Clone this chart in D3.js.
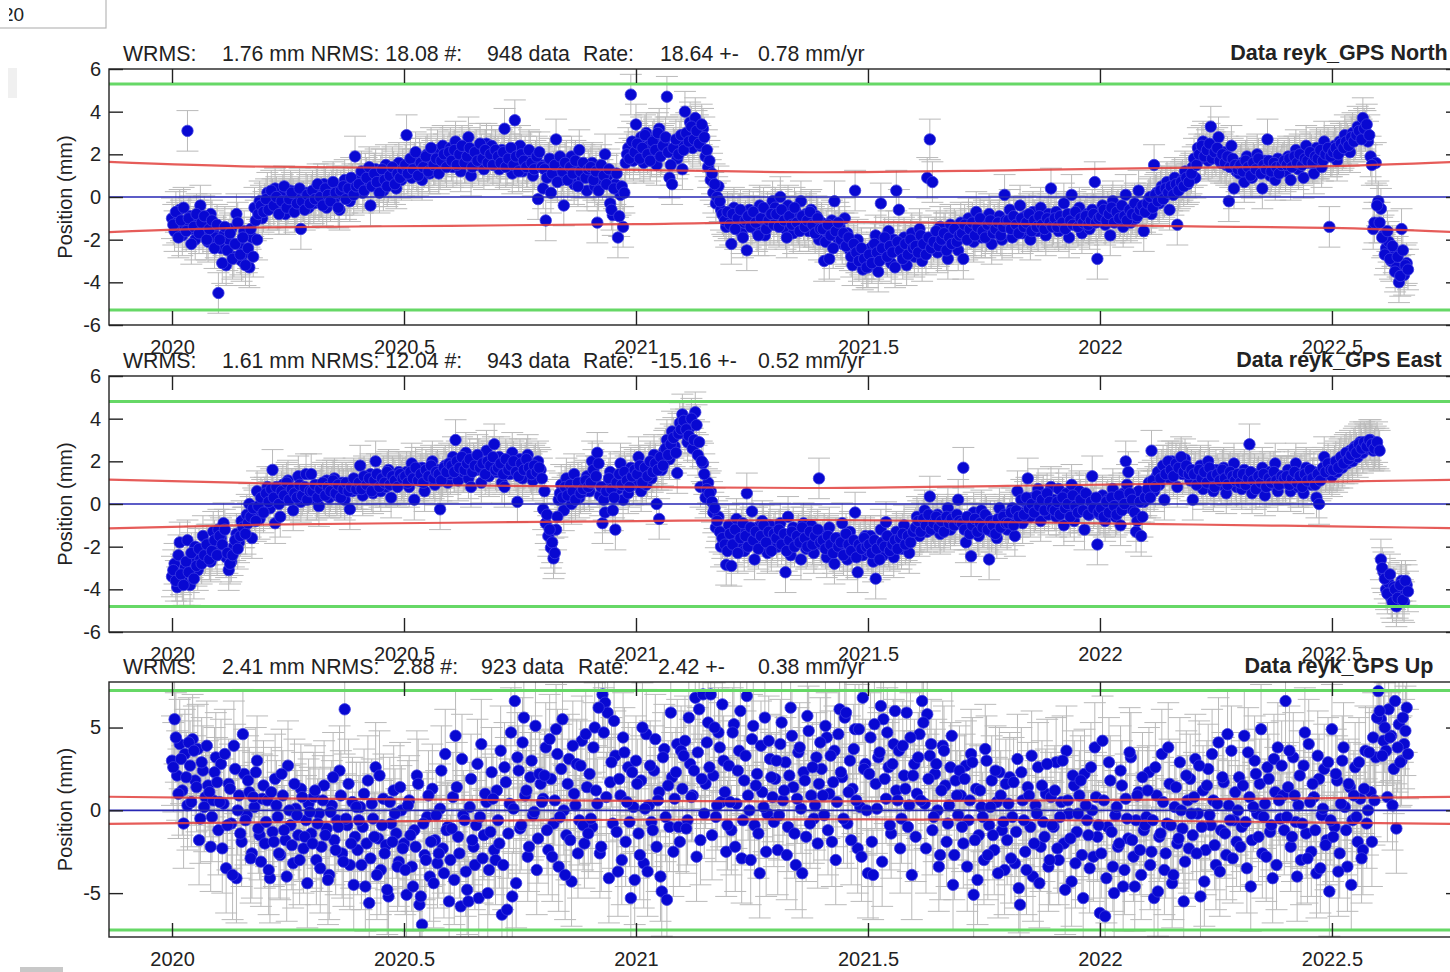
<!DOCTYPE html>
<html><head><meta charset="utf-8">
<script src="https://cdn.jsdelivr.net/npm/d3@7"></script>
<style>
html,body{margin:0;padding:0;background:#fff;overflow:hidden;}
svg{display:block;font-family:"Liberation Sans",Arial,Helvetica,sans-serif;}
</style></head><body>
<svg id="c" width="1450" height="972"></svg>
<script>
// ---------------- data ----------------
const xTicks = [2020, 2020.5, 2021, 2021.5, 2022, 2022.5];
const neTicks = [-6, -4, -2, 0, 2, 4, 6];
const upTicks = [-5, 0, 5];
const panelNames = ["Data reyk_GPS North", "Data reyk_GPS East", "Data reyk_GPS Up"];
const yLabel = "Position (mm)";

// statistics header tokens [text, x]
const northStats = [["WRMS:",123],["1.76 mm NRMS: 18.08 #:",222],["948 data",487],["Rate:",583],["18.64 +-",660],["0.78 mm/yr",758]];
const eastStats  = [["WRMS:",123],["1.61 mm NRMS: 12.04 #:",222],["943 data",487],["Rate:",583],["-15.16 +-",651],["0.52 mm/yr",758]];
const upStats    = [["WRMS:",123],["2.41 mm NRMS:",222],["2.88 #:",393],["923 data",481],["Rate:",578],["2.42 +-",658],["0.38 mm/yr",758]];

// one row per 0.1 yr starting at 2020.0 (2-day sampling); "B" arrays hold the in-between days
const northBlocks = [
[-1.0,-1.6,-1.2,-0.6,-1.8,-1.4,3.1,-0.9,-1.5,-2.0,-1.1,-0.4,-1.7,-1.3,-2.1,-0.8,-1.6,-1.9],
[-4.5,-2.4,-1.8,-3.2,-2.0,-1.5,-2.8,-0.8,-2.2,-3.0,-1.6,-2.6,-3.3,-1.9,-0.5,-2.0,-0.2,-1.0],
[-0.3,0.2,-0.5,-0.1,0.4,-0.6,-0.2,0.1,-0.8,-0.3,0.3,-0.1,-0.4,0.0,-1.5,-0.2,0.2,-0.5],
[0.1,-0.3,0.4,-0.2,0.0,0.6,-0.5,0.2,0.3,-0.1,0.5,-0.6,0.1,0.8,0.2,-0.2,0.6,1.9],
[0.4,0.9,0.2,1.1,0.6,-0.4,0.8,1.3,0.5,1.0,0.3,1.5,0.7,0.9,1.2,0.4,1.6,0.8],
[1.0,2.9,1.3,0.9,1.6,1.2,1.8,0.8,1.4,2.0,1.1,1.7,1.5,2.2,1.3,2.4,1.6,1.9],
[2.3,1.4,2.6,1.9,1.2,2.1,1.6,2.8,1.0,1.8,2.2,1.5,2.0,1.3,2.5,1.7,2.4,1.9],
[1.8,1.3,2.2,3.2,1.5,2.0,1.1,3.6,1.6,2.4,1.2,1.9,1.4,2.1,1.0,1.7,-0.1,1.5],
[0.4,-1.1,1.6,0.2,1.2,2.7,1.4,0.8,-0.4,1.7,1.0,1.9,0.6,1.3,2.2,0.9,1.5,0.3],
[1.1,1.6,0.5,-1.2,1.3,0.8,2.0,1.0,-0.3,-0.85,0.6,-1.9,0.1,-1.4,1.6,2.3,4.8,1.7],
[3.4,2.1,2.8,1.6,3.0,2.4,1.9,2.7,1.5,3.2,2.0,2.5,4.7,0.9,0.6,2.2,1.8,2.6],
[1.3,4.0,2.8,3.5,2.3,3.7,2.9,2.4,3.2,1.9,1.4,0.8,0.2,-0.3,0.5,-0.6,-0.9,-1.4],
[-1.0,-2.2,-0.5,-1.4,-0.8,-1.7,-1.2,-2.5,-0.6,-1.3,-0.9,-1.6,-0.4,-1.1,-1.8,-0.7,-1.3,-0.2],
[-0.5,-1.2,0.0,-0.9,-1.5,-0.4,-1.0,-1.7,-0.7,-1.3,-0.2,-1.1,-0.8,-1.6,-0.6,-1.4,-0.9,-2.0],
[-1.2,-3.0,-1.6,-2.9,-1.1,-0.2,-1.9,-1.4,-2.2,-1.0,-1.7,-2.5,-3.2,0.3,-2.0,-2.7,-3.4,-2.9],
[-3.3,-2.4,-2.9,-1.8,-3.5,-0.3,-2.2,-2.7,-1.6,-3.1,-2.0,0.3,-0.6,-2.6,-1.9,-3.2,-2.3,-1.7],
[-2.8,-2.1,-1.5,-3.0,-2.4,0.9,2.7,0.7,-1.9,-2.6,-1.4,-2.2,-1.7,-2.9,-1.3,-2.0,-1.6,-2.5],
[-1.2,-2.9,-1.8,-1.0,-1.5,-2.1,-0.7,-1.4,-1.9,-1.1,-1.6,-0.8,-2.2,-1.3,-1.7,-0.9,-2.0,0.1],
[-1.4,-0.6,-1.9,-1.0,-1.3,-0.4,-1.7,-0.9,-1.5,-2.0,-0.7,-1.2,-1.6,-0.5,-1.1,-1.8,-0.8,0.4],
[-1.3,-0.7,-1.6,-1.0,-0.3,-1.4,-1.9,0.1,-0.9,-1.2,-0.5,-1.7,-1.1,-0.8,-1.5,-0.6,0.7,-2.9],
[-1.0,-0.4,-1.3,-0.7,-1.8,-0.2,-1.1,-0.6,-0.9,-1.4,0.1,-0.8,-1.2,-0.5,-1.0,0.3,-0.7,-1.6],
[-0.5,-0.1,-0.8,1.5,0.2,-0.3,0.5,0.0,0.7,-0.6,0.3,0.9,-1.3,0.4,0.8,1.2,0.6,1.0],
[1.4,0.9,2.3,1.8,2.6,2.0,1.7,3.3,2.2,1.9,2.8,1.6,2.1,1.5,-0.2,2.4,0.4,1.2],
[1.1,1.6,0.7,1.9,1.3,0.9,1.5,2.0,1.2,0.4,1.7,2.7,1.0,1.4,0.8,1.8,1.3,1.6],
[1.2,1.9,0.8,1.5,2.2,1.3,1.7,0.9,2.4,1.6,2.0,1.1,2.3,1.8,1.4,2.6,2.1,-1.4],
[1.9,2.4,1.7,2.6,2.2,2.9,2.5,2.1,3.0,2.7,3.3,2.8,3.7,3.1,2.6,1.9,-1.5,1.6],
[-0.2,-0.55,-1.8,-2.4,-2.1,-3.0,-2.6,-3.3,-4.0,-1.5,-3.65,-3.1]
];
const northBlocksB = [
[-1.3,-0.7,-1.9,-1.1,-0.5,-1.6,-1.0,-2.2,-1.4,-0.8,-1.7,-1.2,-0.9,-2.0,-1.5,-1.1,-2.4,-1.3],
[-2.0,-3.1,-1.4,-2.5,-1.7,-2.9,-2.2,-1.2,-2.7,-1.9,-3.2,-2.4,-1.5,-2.8,-1.1,-0.8,-0.4,-0.7],
[-0.1,-0.6,0.3,-0.4,0.0,-0.8,-0.2,0.5,-0.5,-0.1,0.2,-0.7,-0.3,0.4,-0.2,-0.6,0.1,-0.3],
[0.3,-0.1,0.6,0.0,-0.4,0.4,0.1,-0.2,0.7,0.2,-0.5,0.3,0.5,-0.1,0.4,0.9,0.1,0.5],
[0.6,1.2,0.3,0.9,1.4,0.5,1.1,0.7,0.2,1.3,0.8,0.5,1.0,1.4,0.6,1.1,0.9,1.3],
[1.5,1.1,1.8,1.3,2.1,1.0,1.6,1.4,1.9,1.2,2.3,1.5,1.8,1.1,1.7,2.0,1.4,2.1],
[1.7,2.2,1.5,2.0,2.4,1.6,1.9,2.3,1.4,2.1,1.7,2.5,1.8,2.2,1.6,2.0,1.5,2.2],
[1.9,1.6,2.1,1.4,1.8,2.3,1.5,1.9,1.2,2.0,1.7,1.4,2.2,1.6,1.3,1.9,2.1,1.4],
[1.3,0.9,1.8,1.1,1.5,0.7,1.9,1.2,1.6,0.8,1.4,1.1,1.7,0.5,1.2,1.6,0.9,1.3],
[1.4,0.8,1.2,0.3,1.5,1.0,0.6,1.3,-0.6,0.4,1.1,-0.9,0.5,0.2,2.0,1.8,2.6,2.1],
[2.5,1.8,2.3,2.9,2.0,1.7,2.6,2.2,3.0,1.9,2.4,2.8,2.1,1.5,2.3,2.7,2.0,2.9],
[2.2,3.0,2.6,3.3,2.7,3.1,2.5,3.4,2.8,2.2,1.7,1.1,0.6,0.0,-0.2,-0.8,-1.1,-0.7],
[-1.3,-0.8,-1.5,-1.0,-0.6,-1.9,-1.1,-0.9,-1.4,-0.7,-1.2,-1.8,-1.0,-0.5,-1.5,-1.1,-0.8,-1.3],
[-0.8,-1.4,-0.6,-1.1,-1.9,-0.9,-1.3,-0.5,-1.2,-1.6,-0.9,-1.4,-1.1,-0.7,-1.3,-1.7,-1.0,-1.5],
[-1.5,-2.1,-1.3,-1.8,-2.4,-1.6,-1.2,-2.0,-1.7,-2.3,-1.9,-2.8,-2.2,-2.6,-3.0,-2.4,-2.9,-3.3],
[-2.7,-3.1,-2.2,-2.6,-3.0,-2.4,-1.9,-2.8,-2.3,-2.6,-3.3,-2.1,-2.5,-2.9,-2.2,-2.7,-2.0,-2.4],
[-2.3,-2.6,-1.8,-2.2,-2.7,-1.9,-2.4,-2.1,-1.6,-2.3,-2.0,-1.7,-2.5,-1.9,-2.2,-1.5,-2.1,-1.8],
[-1.7,-1.3,-2.0,-1.5,-1.2,-1.8,-1.4,-1.0,-1.6,-1.9,-1.3,-1.1,-1.7,-1.5,-1.2,-1.8,-1.4,-1.1],
[-1.1,-1.5,-0.9,-1.3,-1.7,-1.0,-1.4,-1.2,-0.8,-1.6,-1.1,-1.4,-0.9,-1.3,-1.5,-1.0,-1.2,-1.4],
[-1.0,-1.4,-0.9,-1.2,-1.5,-0.8,-1.1,-1.3,-0.7,-1.4,-1.0,-1.2,-0.9,-1.3,-1.1,-0.8,-1.2,-1.0],
[-0.9,-0.6,-1.1,-0.8,-0.5,-1.2,-0.7,-1.0,-0.4,-0.9,-1.1,-0.6,-0.8,-0.3,-0.9,-0.6,-0.4,-0.7],
[-0.3,0.0,-0.5,0.1,-0.2,0.3,-0.1,0.4,0.2,0.5,0.1,0.6,0.3,0.7,0.5,0.9,0.7,1.1],
[1.8,1.5,2.0,2.4,1.9,2.2,2.5,1.8,2.1,2.3,1.7,2.0,1.6,1.9,1.4,1.8,1.5,1.3],
[1.5,1.2,1.7,1.4,1.0,1.6,1.3,1.8,1.1,1.5,1.3,1.7,1.2,1.6,1.4,1.1,1.5,1.7],
[1.5,1.8,1.4,1.9,1.6,2.0,1.5,1.8,1.7,2.1,1.6,1.9,1.8,2.2,1.7,2.0,2.3,1.9],
[2.1,2.3,2.0,2.5,2.3,2.6,2.4,2.8,2.6,2.9,3.1,2.7,3.2,3.4,2.9,1.5,-1.2,-0.4],
[-1.2,-1.9,-2.7,-1.6,-2.9,-2.3,-3.5,-2.8,-3.7,-2.5,-3.2,-3.4]
];

const eastBlocks = [
[-3.4,-2.8,-3.9,-1.8,-3.6,-3.0,-1.7,-3.8,-2.5,-2.0,-3.1,-2.6,-1.5,-2.3,-1.9,-2.7,-1.3,-2.1],
[-1.2,-1.6,-0.9,-2.5,-3.1,-2.7,-2.0,-1.4,-1.8,-0.8,-1.1,-0.5,0.0,-1.6,-0.3,0.6,-0.7,0.2],
[0.3,0.8,-0.2,1.6,-0.9,0.5,-0.6,0.9,0.2,1.1,0.4,-0.3,0.7,1.3,0.1,0.6,1.4,0.5],
[1.4,0.6,0.2,-0.1,0.9,0.5,1.1,0.3,0.8,1.2,0.4,0.7,1.0,0.2,0.9,-0.25,0.6,1.1],
[0.7,1.8,0.4,1.1,0.9,1.4,0.5,2.0,1.0,0.6,1.3,0.8,1.6,0.3,1.2,0.9,1.5,1.1],
[1.0,1.5,0.8,1.9,0.2,1.3,1.1,1.7,0.6,1.4,1.2,2.0,0.9,1.6,-0.25,1.3,1.8,1.0],
[1.4,2.2,3.0,1.1,1.8,1.5,2.4,1.2,0.8,1.9,1.6,2.1,1.0,1.7,2.5,1.3,2.0,2.8],
[1.5,2.2,1.0,0.8,1.9,1.4,2.4,1.7,0.1,2.1,1.2,1.8,2.3,1.5,1.1,1.9,2.0,1.6],
[-0.25,-0.9,-1.5,-2.05,-2.55,-1.2,0.2,0.9,-0.3,1.2,0.5,0.0,1.4,0.7,0.3,1.0,0.6,1.3],
[0.6,2.0,1.1,2.4,0.4,-0.9,-0.4,0.9,1.5,-0.3,-1.2,0.7,1.9,0.2,1.3,0.5,1.7,0.9],
[1.1,2.2,0.6,1.5,0.9,1.8,1.2,2.3,0.0,-0.7,1.6,2.5,3.0,2.1,3.4,2.7,1.45,3.8],
[4.2,3.3,2.9,3.6,2.6,4.3,2.3,0.8,1.9,0.3,1.0,0.6,-0.4,-1.1,-0.6,-2.0,-1.4,-2.85],
[-1.0,-2.9,-1.5,-0.7,-1.8,-1.2,-2.2,0.5,-1.6,-0.35,-2.6,-1.1,-1.9,-0.8,-1.4,-2.3,-1.0,-1.7],
[-1.3,-2.0,-0.9,-1.7,-3.2,-0.6,-2.4,-1.1,-1.8,-1.4,-2.6,-0.9,-2.1,-1.5,-1.0,-2.3,-1.6,1.2],
[-1.9,-1.4,-2.5,-1.1,-2.0,-2.8,-1.6,-2.2,-0.9,-1.7,-2.6,-1.3,-2.1,-0.4,-3.2,-1.8,-2.4,-1.5],
[-2.2,-1.5,-2.7,-3.5,-1.9,-1.2,-2.4,-0.85,-2.0,-1.6,-2.5,-1.3,-1.8,-2.1,-1.0,-1.7,-2.3,-1.4],
[-1.2,-0.6,-1.5,-0.9,-0.3,-1.3,0.35,-0.8,-1.1,-0.5,-1.4,-0.7,-1.0,-0.2,-1.2,-0.6,-0.9,0.2],
[-0.7,1.7,-1.8,-1.2,-2.45,-0.4,-0.9,-1.5,-0.3,-1.1,-0.6,-2.6,-1.3,-0.8,-1.6,-0.2,-1.0,-0.5],
[-1.2,-0.7,-0.2,-1.5,0.6,-0.4,-0.9,0.1,1.2,-0.6,0.3,-0.3,0.7,-0.8,0.4,0.0,-0.5,0.8],
[0.2,-0.6,0.7,-0.2,-1.0,0.5,-0.4,0.9,-0.8,0.1,0.6,-0.3,-1.2,0.4,-0.5,1.3,-0.1,-1.9],
[-0.5,0.4,-0.8,0.2,-0.3,0.7,-0.6,0.0,-1.0,0.5,2.0,1.5,-0.2,0.3,-1.3,0.6,-1.5,0.1],
[0.4,1.0,2.5,0.6,1.3,0.9,1.6,0.2,1.8,1.2,2.0,1.5,0.8,1.9,1.4,2.1,1.7,1.1],
[0.2,1.5,1.0,1.8,0.7,1.3,2.0,1.1,0.6,1.6,1.2,0.9,1.7,0.5,1.4,1.0,1.9,0.8],
[1.3,0.7,1.6,1.0,2.8,0.5,1.4,1.2,0.8,1.7,0.4,1.1,1.5,0.9,1.9,0.6,1.3,1.0],
[1.0,1.6,0.6,1.3,1.9,0.8,1.4,0.5,1.7,1.1,0.9,1.5,0.3,0.0,1.2,2.2,1.6,1.4],
[1.3,1.8,1.5,2.1,1.7,2.3,1.9,2.5,2.0,2.7,2.2,2.9,2.4,2.8,2.6,3.0,2.5,2.7],
[2.6,-2.6,-3.2,-4.0,-3.7,-4.4,-3.9,-4.8,-4.2,-3.6,-4.6,-3.8]
];
const eastBlocksB = [
[-3.1,-3.6,-2.4,-3.3,-3.8,-2.7,-3.2,-2.3,-3.5,-2.9,-2.1,-2.8,-2.4,-1.9,-2.6,-2.2,-1.7,-2.4],
[-1.5,-1.9,-1.2,-2.3,-2.8,-2.4,-1.7,-2.1,-1.5,-1.1,-1.4,-0.9,-0.6,-0.2,-0.8,-0.1,0.3,-0.4],
[0.5,0.1,0.7,0.3,0.8,0.0,0.6,0.4,1.0,0.2,0.7,0.5,0.3,0.9,0.4,0.8,0.2,0.6],
[0.6,0.9,0.3,0.7,1.0,0.4,0.8,0.6,1.1,0.5,0.9,0.3,0.7,1.0,0.6,0.8,1.2,0.7],
[1.0,0.7,1.3,0.9,1.2,0.6,1.1,1.4,0.8,1.2,1.0,1.5,0.9,1.3,1.1,0.8,1.4,1.2],
[1.3,1.0,1.5,1.2,1.7,1.1,1.4,1.0,1.6,1.3,1.8,1.2,1.5,1.4,1.1,1.7,1.5,1.9],
[1.8,1.5,2.0,1.7,2.2,1.6,1.9,2.1,1.5,1.8,2.3,1.7,1.9,1.4,2.0,1.8,2.2,1.6],
[1.7,1.9,1.4,2.1,1.6,1.8,2.0,1.5,1.3,1.9,1.6,2.1,1.7,1.4,1.8,1.5,1.7,1.2],
[0.6,-0.5,-1.2,-1.8,-2.3,-0.6,0.5,0.3,0.8,0.4,0.9,0.6,0.2,1.0,0.5,0.7,1.1,0.8],
[1.0,1.6,1.3,1.9,0.8,0.2,0.6,1.2,0.7,0.3,1.0,1.4,0.9,1.5,1.1,0.8,1.3,1.6],
[1.4,1.8,1.0,1.7,1.3,2.0,1.5,1.9,1.6,2.2,1.8,2.6,2.3,2.8,3.1,2.4,3.3,3.5],
[3.9,3.5,3.2,4.0,3.0,3.7,2.9,2.0,1.4,0.7,0.5,0.1,-0.2,-0.8,-1.3,-1.6,-1.9,-2.2],
[-1.4,-1.9,-1.2,-2.3,-1.6,-0.9,-1.5,-2.0,-1.1,-1.7,-1.3,-2.1,-1.5,-1.0,-1.8,-1.3,-2.2,-1.4],
[-1.6,-1.2,-1.9,-1.4,-2.2,-1.7,-1.3,-2.0,-1.5,-1.8,-1.1,-1.6,-2.0,-1.3,-1.9,-1.5,-1.2,-1.8],
[-1.7,-2.1,-1.5,-1.9,-2.3,-1.6,-2.0,-1.8,-2.4,-1.4,-1.9,-2.2,-1.7,-2.5,-1.9,-2.1,-1.6,-2.0],
[-1.9,-2.3,-1.7,-2.1,-2.6,-1.8,-2.0,-1.5,-2.2,-1.9,-1.7,-2.1,-1.6,-1.4,-1.9,-1.5,-1.8,-1.3],
[-1.1,-0.8,-1.3,-0.7,-1.0,-0.5,-1.2,-0.9,-0.6,-1.1,-0.8,-1.3,-0.6,-0.9,-0.7,-1.0,-0.5,-0.8],
[-0.9,-1.2,-0.6,-1.4,-1.0,-0.7,-1.3,-0.9,-1.1,-0.5,-1.2,-0.8,-1.0,-1.4,-0.7,-1.1,-0.6,-0.9],
[-0.9,-0.4,-1.0,-0.3,-0.6,0.2,-0.5,0.3,-0.2,0.0,-0.4,0.4,-0.1,0.2,-0.3,0.5,0.1,-0.2],
[-0.3,0.1,-0.5,0.3,-0.2,0.0,-0.6,0.4,-0.1,-0.4,0.2,-0.3,0.5,-0.5,0.1,-0.2,0.3,-0.4],
[-0.2,-0.6,0.1,-0.4,0.3,-0.1,-0.5,0.4,-0.3,0.0,0.9,0.5,0.2,-0.4,-0.8,0.1,-0.6,0.3],
[0.7,0.3,1.1,0.8,1.5,1.2,1.8,1.4,2.0,1.6,1.3,1.9,1.7,2.2,1.5,1.8,1.4,1.6],
[1.4,0.9,1.6,1.2,1.5,1.0,1.7,1.3,0.8,1.4,1.1,1.6,1.2,0.9,1.5,1.3,1.1,1.4],
[1.0,1.4,0.9,1.2,1.5,1.1,0.7,1.3,1.0,1.4,0.8,1.2,1.0,1.5,1.1,0.9,1.3,1.2],
[1.3,0.9,1.2,1.5,1.0,1.3,0.8,1.4,1.1,1.6,1.2,0.9,1.4,1.1,1.7,1.5,1.9,1.6],
[1.6,2.0,1.7,2.2,1.9,2.4,2.1,2.3,2.6,2.4,2.8,2.6,2.9,2.7,3.0,2.8,2.6,2.9],
[2.5,-3.0,-3.5,-4.2,-3.3,-4.6,-4.0,-4.4,-3.8,-4.5,-3.6,-4.1]
];

const upBlocks = [
[3.0,5.5,2.1,4.0,1.2,3.4,0.3,2.7,4.3,1.8,3.7,-0.5,2.4,0.8,1.5,-2.2,0.6,3.2],
[-1.2,2.8,0.4,-3.5,1.6,-0.8,3.9,-4.1,0.9,-1.9,2.2,-0.3,1.1,-2.6,0.2,3.0,-1.5,0.7],
[-2.0,0.6,-4.1,-1.3,1.9,-0.4,-2.7,0.9,-1.8,2.7,-0.9,-3.2,0.1,-1.5,1.3,-2.3,-0.6,0.4],
[-1.4,0.8,-3.0,-0.2,-2.2,1.5,-1.1,-3.9,0.3,-1.8,-0.6,2.4,-2.6,6.1,-0.9,-3.3,0.5,-1.6],
[-2.4,0.2,-1.0,-4.6,1.8,-2.9,-0.5,2.6,-1.7,-3.6,0.7,-2.1,-5.2,-0.8,1.2,-1.4,-3.1,0.0],
[-2.0,-5.1,0.6,-3.4,-1.2,2.1,-5.7,-6.9,-2.7,-0.4,-4.0,1.3,-1.8,-3.2,0.1,-2.3,3.4,-1.0],
[-3.0,0.8,4.5,-1.6,-5.8,-0.3,-3.7,-5.5,1.9,-2.2,-0.9,-5.3,4.0,-1.5,0.5,-3.6,2.3,-2.4],
[1.2,-2.0,-6.3,2.6,-6.0,0.4,-5.2,6.6,3.2,-1.1,4.1,0.9,-2.8,2.0,-0.3,5.1,-1.7,1.6],
[0.7,3.8,-2.4,1.9,-0.8,4.9,-3.4,2.5,0.0,-1.5,3.1,-4.3,1.0,2.8,-0.6,4.2,-2.0,1.4],
[2.2,-1.0,5.0,0.4,-2.6,7.0,6.5,5.9,1.7,-0.8,3.3,-3.7,0.9,4.4,-1.9,2.6,-5.3,0.2],
[3.0,-1.4,1.8,-3.2,4.6,0.3,-0.7,2.4,-2.2,1.1,-4.9,3.7,-5.4,-1.0,2.0,0.7,4.0,-1.9],
[1.3,4.2,-0.6,2.8,0.9,6.8,3.5,-1.8,7.0,1.6,5.3,7.0,2.1,-0.4,4.7,0.5,3.0,-2.5],
[2.7,-1.2,5.2,0.4,3.6,-2.9,1.8,6.9,0.0,4.3,-0.9,2.2,-3.8,1.1,5.6,-0.2,3.1,0.8],
[1.9,-2.4,4.0,0.6,2.9,-1.0,6.2,1.4,-3.3,3.5,0.1,2.3,-1.6,4.8,0.9,-0.5,3.2,1.6],
[2.5,-0.3,4.4,1.0,-1.9,3.6,0.5,6.1,2.0,5.6,-0.8,3.0,1.3,4.9,-2.3,0.2,6.8,2.8],
[-3.8,4.4,-3.9,1.6,3.2,6.3,5.5,0.7,2.6,-1.4,4.0,1.2,3.6,-0.5,2.1,5.9,0.3,-3.9],
[2.8,1.0,4.6,6.6,0.4,5.8,3.3,-1.2,2.2,0.0,-2.7,3.9,1.5,-0.8,2.6,-4.5,1.8,-0.3],
[0.9,-2.0,2.7,-0.6,3.4,-5.1,1.3,-1.5,0.2,-3.0,3.0,-0.9,1.8,-2.4,0.5,2.3,-1.2,-3.6],
[-1.8,2.0,-0.4,-3.2,3.1,-5.7,0.6,-2.5,1.4,-1.0,-4.0,0.3,2.6,-2.2,-0.7,1.0,-3.4,0.8],
[-1.0,2.9,-3.0,0.5,-2.0,3.6,-0.2,-4.3,1.5,-1.3,0.9,-2.7,2.2,-0.6,-3.5,0.0,3.8,-1.6],
[-6.2,4.2,-6.4,-1.0,1.8,-3.4,-0.3,-2.2,2.4,-4.6,0.7,-1.7,3.2,-2.8,-0.6,1.1,-3.9,-1.2],
[-0.4,2.3,-2.5,-5.3,0.9,-1.6,3.4,-3.6,-0.8,1.6,-4.4,0.2,-2.0,2.9,-1.1,-3.1,0.6,1.9],
[-1.5,3.1,-0.2,-5.2,1.2,-2.4,2.5,-0.9,0.6,-3.3,4.1,-1.2,1.7,-2.7,0.3,3.6,-0.6,-1.9],
[2.0,-1.0,4.5,-3.5,0.8,-1.8,3.0,-0.2,1.6,-2.6,0.4,2.6,-1.3,-4.1,1.1,3.8,-0.5,0.9],
[6.6,1.4,-2.2,3.2,-0.7,0.3,-3.0,2.7,-1.4,4.0,-2.5,0.8,-3.8,1.9,-0.3,2.5,-1.8,-4.9],
[4.9,-1.0,1.8,-2.6,3.0,0.2,-3.4,1.4,-0.6,2.6,-1.9,0.7,-2.4,3.6,0.0,1.1,4.4,3.2],
[7.2,5.5,4.2,3.6,6.1,4.5,2.5,-1.1,5.2,3.0,4.0,6.2]
];
const upBlocksB = [
[2.6,4.4,1.0,3.1,-0.8,2.0,4.1,0.5,3.6,1.4,-1.8,2.9,0.2,3.9,1.1,-0.4,2.3,1.7],
[0.5,-2.3,3.4,-0.9,1.3,-3.9,2.5,0.0,-1.4,4.6,-0.6,1.8,-2.9,0.8,2.3,-1.1,-3.1,1.5],
[-0.7,-3.6,1.1,-1.9,0.3,-2.6,2.2,-1.2,-4.0,0.0,-2.1,1.6,-0.3,-3.0,0.8,-1.6,-4.4,-0.1],
[-2.0,1.2,-0.8,-3.5,0.6,-1.5,-4.2,-0.1,2.0,-2.4,-1.0,0.9,-3.1,-0.5,1.6,-2.0,-4.5,0.2],
[-0.6,-3.3,1.0,-2.0,-5.6,0.4,-1.6,-3.9,2.1,-0.9,-2.6,-4.8,0.5,-1.9,-0.2,-3.4,1.4,-2.3],
[-3.6,0.3,-1.5,-4.6,-2.2,1.6,-5.2,-0.8,-3.0,0.9,-1.9,-4.4,-0.3,-2.6,2.4,-3.8,-1.2,-5.5],
[-1.1,-4.2,1.4,-2.6,3.1,-0.6,-4.8,0.2,-1.8,-3.3,2.8,-0.4,-2.9,1.0,-5.0,-1.3,0.7,-3.0],
[-0.6,3.6,-3.3,1.7,-1.4,4.7,0.1,-4.4,2.4,-0.9,5.6,1.2,-2.2,3.0,-0.1,-3.6,2.2,0.5],
[2.1,-1.2,4.3,-2.8,0.6,3.4,-0.4,5.5,-3.9,1.6,-1.8,3.9,0.3,-2.6,2.7,-0.9,4.6,-1.4],
[-0.5,3.8,1.2,6.2,-2.2,4.7,0.8,-4.1,2.9,5.4,-1.3,1.9,-3.0,3.5,0.5,-0.7,2.3,-4.2],
[1.6,-2.7,5.0,0.1,-3.7,2.7,-1.2,4.3,0.6,-4.0,3.2,-0.4,1.5,5.9,-2.5,2.3,-1.0,3.6],
[3.3,-1.1,5.6,0.8,2.4,-2.8,6.1,1.9,-0.2,4.1,2.6,-1.5,5.0,0.3,3.8,6.4,1.1,-0.9],
[0.5,4.7,-2.2,2.4,6.0,-0.6,3.3,0.9,-3.0,5.1,1.5,-1.4,3.9,0.2,-2.5,4.2,2.0,-0.7],
[3.0,-0.3,5.3,1.2,-2.7,2.1,4.5,-1.4,0.7,3.8,-3.8,1.8,5.7,-0.8,2.6,0.3,-2.0,4.1],
[0.9,5.1,-1.2,3.3,1.7,-3.0,4.6,2.3,-0.5,5.9,1.1,-1.8,3.7,0.6,4.9,-2.8,2.5,0.0],
[2.2,-1.9,5.2,0.1,3.5,-3.1,1.9,4.7,-0.9,2.8,6.0,0.6,-2.3,3.9,1.3,-1.0,4.4,2.1],
[-1.6,3.2,0.6,5.3,-2.3,1.9,4.0,-0.4,2.8,-3.4,1.2,3.6,-1.9,0.3,4.5,-2.7,0.9,2.4],
[-1.0,1.9,-3.4,0.6,2.9,-1.8,-4.2,1.2,-0.4,3.7,-2.7,0.2,-1.5,2.4,-3.8,0.9,-0.7,1.6],
[0.4,-2.9,1.7,-1.3,-4.7,2.3,-0.6,-3.6,0.9,3.3,-2.0,-0.2,-4.4,1.5,-1.6,2.8,-3.0,-0.9],
[1.2,-2.3,-0.4,3.0,-4.8,0.6,-1.7,2.1,-3.2,-0.2,1.8,-5.3,0.3,-1.5,2.6,-2.8,0.8,-0.9],
[-2.6,0.6,-4.1,2.9,-1.3,-5.0,0.2,-2.0,1.5,-3.6,-0.5,3.5,-1.8,-4.6,0.9,-2.4,2.0,-0.9],
[1.2,-3.3,-0.6,2.6,-4.9,-1.4,0.5,-2.6,3.8,-0.9,-3.9,1.4,-1.7,0.0,-5.5,2.1,-2.3,-0.2],
[0.8,-2.6,2.7,-1.0,-4.3,1.5,-0.3,3.4,-2.1,0.4,-3.7,2.0,-1.4,4.6,-0.6,-2.9,1.1,0.0],
[-2.2,1.5,-0.7,3.5,-4.6,0.2,2.2,-1.6,4.9,-0.4,-2.8,1.9,-0.9,3.1,-3.3,0.6,2.7,-1.2],
[-0.4,3.6,-1.6,0.9,-4.0,2.1,-0.8,4.7,-2.9,0.5,1.6,-1.2,3.3,-3.5,0.1,-2.1,2.9,-0.6],
[-1.6,2.2,-3.7,0.4,3.8,-1.2,1.6,-4.5,0.9,-0.4,2.9,-2.9,1.3,-0.8,3.5,-1.9,0.6,5.6],
[6.0,3.3,5.0,0.8,4.4,0.3,6.6,3.8,2.9,5.6,4.8,3.4]
];

// formal errors (mm), one per component
const sigmas = [0.95, 0.95, 2.7];
// green limits and red envelopes
const greenLimits = [5.3, 4.8, 7.23];
const redYears  = [2019.86, 2020.2, 2020.6, 2021.0, 2021.4, 2021.8, 2022.2, 2022.5, 2022.78];
const northRed  = [1.65, 1.42, 1.35, 1.27, 1.16, 1.25, 1.38, 1.45, 1.66];
const eastRed   = [1.14, 0.97, 0.88, 0.80, 0.75, 0.85, 0.96, 1.05, 1.14];
const upRed     = [0.82, 0.72, 0.64, 0.57, 0.54, 0.58, 0.66, 0.74, 0.82];

// ---------------- drawing ----------------
const svg = d3.select("#c");
const X0 = 109, X1 = 1460;
const x = d3.scaleLinear().domain([2019.8642, 2022.776]).range([X0, X1]);
const FONT = '"Liberation Sans",Arial,sans-serif';

const panels = [
  {sets: [northBlocks, northBlocksB], sigma: sigmas[0], top: 69, bottom: 325, dom: [-6, 6], ticks: neTicks, green: greenLimits[0], red: northRed, stats: northStats, name: panelNames[0]},
  {sets: [eastBlocks, eastBlocksB], sigma: sigmas[1], top: 376, bottom: 632, dom: [-6, 6], ticks: neTicks, green: greenLimits[1], red: eastRed, stats: eastStats, name: panelNames[1]},
  {sets: [upBlocks, upBlocksB], sigma: sigmas[2], top: 682, bottom: 937, dom: [-7.65, 7.75], ticks: upTicks, green: greenLimits[2], red: upRed, stats: upStats, name: panelNames[2]}
];

// decorations (top-left widget remnants)
svg.append("clipPath").attr("id", "boxclip").append("rect").attr("x", 9).attr("y", 0).attr("width", 96).attr("height", 27);
svg.append("rect").attr("x", -5).attr("y", -5).attr("width", 111).attr("height", 33)
  .attr("fill", "#fff").attr("stroke", "#b8b8b8").attr("stroke-width", 1.2);
svg.append("text").attr("x", 3).attr("y", 21).attr("font-size", 19).attr("fill", "#222")
  .attr("clip-path", "url(#boxclip)").text("20");
svg.append("rect").attr("x", 8).attr("y", 68).attr("width", 9).attr("height", 30).attr("fill", "#f0f0f0");
svg.append("rect").attr("x", 20).attr("y", 967).attr("width", 43).attr("height", 5).attr("fill", "#c8c8c8");

panels.forEach((p, pi) => {
  const y = d3.scaleLinear().domain(p.dom).range([p.bottom, p.top]);
  const g = svg.append("g");
  const clipId = "clip" + pi;
  svg.append("clipPath").attr("id", clipId).append("rect")
    .attr("x", X0).attr("y", p.top).attr("width", X1 - X0).attr("height", p.bottom - p.top);

  const pts = [];
  p.sets.forEach((blocks, si) => blocks.forEach((blk, k) => blk.forEach((v, j) =>
    pts.push({t: 2020 + 0.1 * k + (j + si / p.sets.length) * 0.1 / 18, v}))));

  const plot = g.append("g").attr("clip-path", `url(#${clipId})`);
  // error bars
  const eb = plot.append("g").attr("stroke", "#bababa").attr("stroke-width", 1).attr("fill", "none");
  eb.selectAll("path").data(pts).join("path")
    .attr("d", d => {
      const cx = x(d.t), y1 = y(d.v + p.sigma), y2 = y(d.v - p.sigma);
      return `M${cx},${y1}V${y2}M${cx - 11},${y1}H${cx + 11}M${cx - 11},${y2}H${cx + 11}`;
    });
  // dots
  plot.append("g").selectAll("circle").data(pts).join("circle")
    .attr("cx", d => x(d.t)).attr("cy", d => y(d.v)).attr("r", 5.7)
    .attr("fill", "#0808d2").attr("stroke", "#3c3ce0").attr("stroke-width", 0.8);
  // zero line
  plot.append("line").attr("x1", X0).attr("x2", X1).attr("y1", y(0)).attr("y2", y(0))
    .attr("stroke", "#2626b4").attr("stroke-width", 1.6);
  // red envelopes
  const line = d3.line().x(d => x(d[0])).y(d => y(d[1])).curve(d3.curveMonotoneX);
  [1, -1].forEach(s => {
    plot.append("path").datum(redYears.map((t, i) => [t, s * p.red[i]]))
      .attr("d", line).attr("fill", "none").attr("stroke", "#e2403c").attr("stroke-width", 2.2).attr("opacity", 0.85);
  });
  // green limits
  [1, -1].forEach(s => {
    plot.append("line").attr("x1", X0).attr("x2", X1).attr("y1", y(s * p.green)).attr("y2", y(s * p.green))
      .attr("stroke", "#66d866").attr("stroke-width", 3);
  });

  // frame
  g.append("rect").attr("x", X0).attr("y", p.top).attr("width", X1 - X0).attr("height", p.bottom - p.top)
    .attr("fill", "none").attr("stroke", "#222").attr("stroke-width", 1.4);

  // axes
  const axStyle = a => { a.select(".domain").remove(); a.selectAll("line").attr("stroke", "#222").attr("stroke-width", 1.4);
    a.selectAll("text").attr("font-size", 20).attr("fill", "#222").attr("font-family", FONT); };
  g.append("g").attr("transform", `translate(0,${p.bottom})`)
    .call(d3.axisBottom(x).tickValues(xTicks).tickSizeInner(-14).tickSizeOuter(0).tickPadding(15)
      .tickFormat(d => Number.isInteger(d) ? String(d) : d.toFixed(1))).call(axStyle);
  g.append("g").attr("transform", `translate(0,${p.top})`)
    .call(d3.axisTop(x).tickValues(xTicks).tickSizeInner(-14).tickSizeOuter(0).tickFormat("")).call(axStyle);
  g.append("g").attr("transform", `translate(${X0},0)`)
    .call(d3.axisLeft(y).tickValues(p.ticks).tickSizeInner(-14).tickSizeOuter(0).tickPadding(8).tickFormat(d => String(d))).call(axStyle);
  g.append("g").attr("transform", `translate(${X1},0)`)
    .call(d3.axisRight(y).tickValues(p.ticks).tickSizeInner(-14).tickSizeOuter(0).tickFormat("")).call(axStyle);

  // y label
  g.append("text").attr("transform", `translate(72,${(p.top + p.bottom) / 2}) rotate(-90)`)
    .attr("text-anchor", "middle").attr("font-size", 20).attr("fill", "#222").text(yLabel);

  // stats header
  const hdr = g.append("text").attr("y", p.top - 8).attr("font-size", 21.3).attr("fill", "#222");
  p.stats.forEach(([txt, xx]) => hdr.append("tspan").attr("x", xx).text(txt));
  // component title
  g.append("text").attr("x", 1339).attr("y", p.top - 9).attr("text-anchor", "middle")
    .attr("font-size", 21.5).attr("font-weight", "bold").attr("fill", "#222").text(p.name);
});
</script>
</body></html>
